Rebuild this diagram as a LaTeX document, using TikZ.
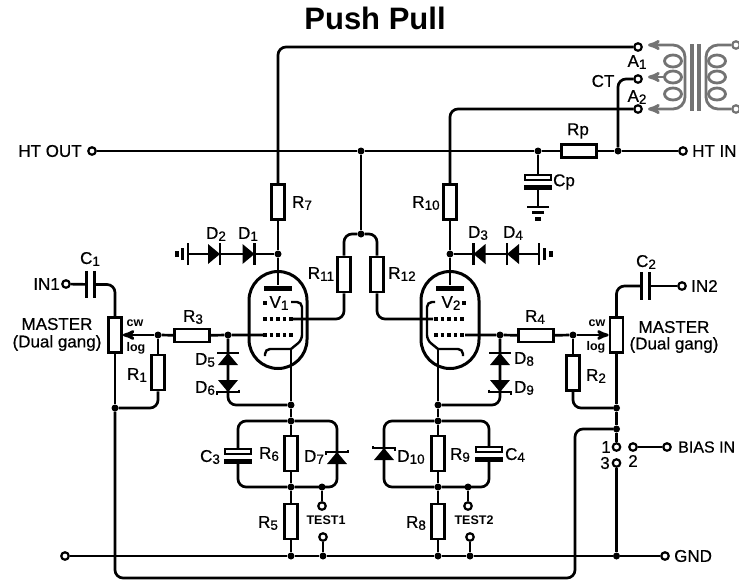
\documentclass[tikz,border=0pt]{standalone}
\usepackage{fontspec}
\setmainfont[FakeBold=0.6]{Liberation Sans}
\newfontfamily\plainbold{Liberation Sans Bold}
\usetikzlibrary{shapes, arrows, positioning}
\newcommand{\lab}[2]{#1\raisebox{-2pt}{\fontsize{13.5}{13.5}\selectfont #2}}
\newcommand{\diode}[4]{%
	\begin{scope}[shift={(#2,#3)},rotate=#4]
		\coordinate (#1) at (0,0);
		\fill (-6,-10) -- (6,0) -- (-6,10) -- cycle;
		\draw[wire] (6,-11) -- (6,11);
	\end{scope}}
\newcommand{\zener}[5][]{%
	\begin{scope}[shift={(#3,#4)},rotate=#5,#1]
		\coordinate (#2) at (0,0);
		\fill (-6,-10) -- (6,0) -- (-6,10) -- cycle;
		\draw[line width=2.7pt] (3.5,-11) -- (6,-11) -- (6,11) -- (8.5,11);
	\end{scope}}
\newcommand{\gnd}[4]{%
	\begin{scope}[shift={(#2,#3)},rotate=#4]
		\coordinate (#1) at (0,0);
		\draw[wire] (0,-11) -- (0,11);
		\draw[wire] (5.5,-6) -- (5.5,6);
		\draw[line width=4pt] (11.5,-3) -- (11.5,3);
	\end{scope}}
\newcommand{\polcap}[3]{%
	\node[capnode] (#1) at (#2,#3) {};
	\draw[line width=2pt] (#2-13,#3-7.5) rectangle (#2+13,#3-2.5);
	\fill (#2-14,#3+2.5) rectangle (#2+14,#3+8);}
\newcommand{\plaincap}[3]{%
	\node[capgap] (#1) at (#2,#3) {};
	\draw[wire] (#1.north west) -- (#1.south west);
	\draw[wire] (#1.north east) -- (#1.south east);}
\newcommand{\tube}[3]{%
	\node[envelope] (#1) at (#2,320) {};
	\node[plate] (#3) at (#2,288) {};}
\tikzstyle{wire} = [line width=2.7pt, rounded corners=8pt]
\tikzstyle{thin wire} = [line width=2.4pt, rounded corners=5pt]
\tikzstyle{gridbar} = [line width=4pt, dash pattern=on 3.6pt off 3pt]
\tikzstyle{dot} = [circle, fill=black, minimum size=7pt, inner sep=0pt]
\tikzstyle{term} = [circle, draw, line width=2.2pt, fill=white, minimum size=7.5pt, inner sep=0pt]
\tikzstyle{resv} = [rectangle, draw, line width=2.7pt, minimum width=13pt, minimum height=35pt, inner sep=0pt]
\tikzstyle{resh} = [rectangle, draw, line width=2.7pt, minimum width=35pt, minimum height=13pt, inner sep=0pt]
\tikzstyle{envelope} = [rectangle, draw, line width=3pt, rounded corners=29pt, minimum width=58pt, minimum height=97pt, inner sep=0pt]
\tikzstyle{plate} = [rectangle, fill=black, minimum width=28pt, minimum height=5pt, inner sep=0pt]
\tikzstyle{square} = [rectangle, fill=black, minimum size=4pt, inner sep=0pt]
\tikzstyle{capnode} = [rectangle, minimum width=28pt, minimum height=15pt, inner sep=0pt]
\tikzstyle{capgap} = [rectangle, minimum width=7pt, minimum height=27pt, inner sep=0pt]
\tikzstyle{coreline} = [line width=2.8pt, draw=gray!90!black]
\tikzstyle{graphterm} = [circle, draw=gray!90!black, line width=2.2pt, fill=white, minimum size=7.5pt, inner sep=0pt]
\tikzstyle{txt} = [inner sep=0pt, font=\fontsize{17}{17}\selectfont]
\tikzstyle{small} = [inner sep=0pt, font=\fontsize{12.5}{12.5}\selectfont\plainbold]
\begin{document}
\begin{tikzpicture}[x=1pt,y=-1pt]
	\useasboundingbox (0,0) rectangle (739,582);
	\node[inner sep=0pt, font=\fontsize{31}{31}\selectfont\plainbold] (title) at (375,18) {Push Pull};
	% terminals
	\node[term] (A1) at (638,47) {};
	\node[term] (CT) at (638,79) {};
	\node[term] (A2) at (638,109) {};
	\node[term] (HTout) at (92,151) {};
	\node[term] (HTin) at (683,151) {};
	\node[term] (IN1) at (66,284) {};
	\node[term] (IN2) at (682,286) {};
	\node[term] (gndL) at (65,556) {};
	\node[term] (gndR) at (665,556) {};
	\node[term] (sw1) at (616.5,447) {};
	\node[term] (sw2) at (633,447) {};
	\node[term] (sw3) at (616.5,463) {};
	\node[term] (biasIn) at (667,447) {};
	\node[term] (testA1) at (322,506) {};
	\node[term] (testB1) at (323,537) {};
	\node[term] (testA2) at (468,506) {};
	\node[term] (testB2) at (470,537) {};
	% resistors
	\node[resv] (R7) at (278,202) {};
	\node[resv] (R10) at (450,202) {};
	\node[resh] (Rp) at (579,151) {};
	\node[resv] (R11) at (344,274.5) {};
	\node[resv] (R12) at (377,274.5) {};
	\node[resh] (R3) at (192,335.5) {};
	\node[resh] (R4) at (536,335.5) {};
	\node[resv] (R1) at (158,372.5) {};
	\node[resv] (R2) at (573,373) {};
	\node[resv] (R6) at (291,453.5) {};
	\node[resv] (R5) at (291,521.5) {};
	\node[resv] (R9) at (438,453.5) {};
	\node[resv] (R8) at (438,521.5) {};
	\node[resv] (potL) at (115,335) {};
	\node[resv] (potR) at (616.5,335) {};
	% junctions
	\node[dot] (jHT) at (361,151) {};
	\node[dot] (jScr) at (361,234) {};
	\node[dot] (jCp) at (538,151) {};
	\node[dot] (jCT) at (618,151) {};
	\node[dot] (jV1) at (278,254) {};
	\node[dot] (jV2) at (450,254) {};
	\node[dot] (jG1) at (228,335) {};
	\node[dot] (jG2) at (500,335) {};
	\node[dot] (jR1) at (158,335) {};
	\node[dot] (jR2) at (573,335) {};
	\node[dot] (jP1) at (115,408) {};
	\node[dot] (jP2) at (616.5,408) {};
	\node[dot] (jP3) at (616.5,429) {};
	\node[dot] (jC1) at (291,405) {};
	\node[dot] (jC2) at (438,405) {};
	\node[dot] (jT1) at (291,421) {};
	\node[dot] (jT2) at (438,421) {};
	\node[dot] (jM1) at (291,487) {};
	\node[dot] (jM2) at (438,487) {};
	\node[dot] (jA1) at (322,487) {};
	\node[dot] (jA2) at (468,487) {};
	\node[dot] (jB1) at (291,556) {};
	\node[dot] (jB2) at (438,556) {};
	\node[dot] (jB3) at (616.5,556) {};
	\node[dot] (jD1) at (323,556) {};
	\node[dot] (jD2) at (470,556) {};
	% free ends
	\coordinate (scr1) at (293,319);
	\coordinate (scr2) at (433,319);
	\coordinate (ctl1) at (263,335);
	\coordinate (ctl2) at (465,335);
	\coordinate (cath1) at (291,349);
	\coordinate (cath2) at (438,349);
	\coordinate (cBL) at (115,578);
	\coordinate (cBR) at (575,578);
	\coordinate (cBU) at (575,429);
	% parts
	\tube{V1}{278}{P1}
	\tube{V2}{450}{P2}
	\node[square] (S1) at (265,303) {};
	\node[square] (S2) at (464,303) {};
	\diode{D1}{248.5}{254}{0}
	\diode{D2}{214}{254}{0}
	\diode{D3}{479.5}{254}{180}
	\diode{D4}{513}{254}{180}
	\diode{D5}{228}{359}{90}
	\diode{D8}{500}{359}{90}
	\zener{D6}{228}{386}{270}
	\zener[yscale=-1]{D9}{500}{386}{270}
	\zener{D7}{337}{458}{90}
	\zener[yscale=-1]{D10}{384}{454}{90}
	\gnd{gndA}{188}{254}{180}
	\gnd{gndB}{539}{254}{0}
	\gnd{gndC}{538}{207}{270}
	\plaincap{C1}{90.5}{284.5}
	\plaincap{C2}{645.5}{286}
	\polcap{Cp}{538}{182}
	\polcap{C3}{238}{456}
	\polcap{C4}{489}{454}
	% wires
	\draw[wire] (A1) -| (R7);
	\draw[wire] (A2) -| (R10);
	\draw[wire] (CT) -| (jCT);
	\draw[wire] (HTout) -- (jHT) -- (jCp) -- (Rp) -- (jCT) -- (HTin);
	\draw[wire] (jHT) -- (jScr);
	\draw[wire] (R11) |- (jScr) -| (R12);
	\draw[wire] (jCp) -- (Cp);
	\draw[wire] (Cp) -- (gndC);
	\draw[wire] (R7) -- (jV1) -- (P1);
	\draw[wire] (R10) -- (jV2) -- (P2);
	\draw[wire] (jV1) -- (D1) -- (D2) -- (gndA);
	\draw[wire] (jV2) -- (D3) -- (D4) -- (gndB);
	\draw[wire] (R11) |- (scr1);
	\draw[wire] (R12) |- (scr2);
	\draw[gridbar] (263,319) -- (scr1);
	\draw[gridbar] (ctl1) -- (293,335);
	\draw[gridbar] (434,319) -- (465,319);
	\draw[gridbar] (434,335) -- (ctl2);
	\draw[thin wire] (291,302) -- (302,302) -- (302,340) -- (cath1);
	\draw[thin wire] (265,356) -- (265,349) -- (cath1);
	\draw[thin wire] (435,302) -- (427,302) -- (427,340) -- (cath2);
	\draw[thin wire] (463,356) -- (463,349) -- (cath2);
	\draw[wire] (ctl1) -- (jG1) -- (R3) -- (jR1);
	\draw[wire] (ctl2) -- (jG2) -- (R4) -- (jR2);
	\draw[wire, -stealth'] (jR1) -- (potL);
	\draw[wire, -stealth'] (jR2) -- (potR);
	\draw[wire] (IN1) -- (C1);
	\draw[wire] (C1) -| (potL);
	\draw[wire] (IN2) -- (C2);
	\draw[wire] (C2) -| (potR);
	\draw[wire] (potL) -- (jP1);
	\draw[wire] (jR1) -- (R1);
	\draw[wire] (R1) |- (jP1);
	\draw[wire] (potR) -- (jP2) -- (jP3) -- (sw1);
	\draw[wire] (jR2) -- (R2);
	\draw[wire] (R2) |- (jP2);
	\draw[wire] (jP1) -- (cBL) -- (cBR) -- (cBU) -- (jP3);
	\draw[wire] (sw2) -- (biasIn);
	\draw[wire] (sw3) -- (jB3);
	\draw[wire] (jG1) -- (D5) -- (D6) |- (jC1);
	\draw[wire] (jG2) -- (D8) -- (D9) |- (jC2);
	\draw[wire] (cath1) -- (jC1) -- (jT1) -- (R6) -- (jM1) -- (R5) -- (jB1);
	\draw[wire] (cath2) -- (jC2) -- (jT2) -- (R9) -- (jM2) -- (R8) -- (jB2);
	\draw[wire] (C3) |- (jT1) -| (D7);
	\draw[wire] (C3) |- (jM1) -| (D7);
	\draw[wire] (C4) |- (jT2) -| (D10);
	\draw[wire] (C4) |- (jM2) -| (D10);
	\draw[wire] (jA1) -- (testA1);
	\draw[wire] (testB1) -- (jD1);
	\draw[wire] (jA2) -- (testA2);
	\draw[wire] (testB2) -- (jD2);
	\draw[wire] (gndL) -- (jB1) -- (jD1) -- (jB2) -- (jD2) -- (jB3) -- (gndR);
	% transformer
	\node[graphterm] (secA) at (736,45) {};
	\node[graphterm] (secB) at (736,109) {};
	\coordinate (priA) at (648,45);
	\coordinate (priB) at (648,109);
	\coordinate (priC) at (648,77);
	\coordinate (tapC) at (666,77);
	\draw[coreline, rounded corners=12pt, stealth'-stealth'] (priA) -- (685,45) -- (685,109) -- (priB);
	\draw[coreline, stealth'-] (priC) -- (tapC);
	\draw[coreline, rounded corners=12pt] (secA) -- (706,45) -- (706,109) -- (secB);
	\foreach \ypos in {61,77,94} {
		\draw[coreline] (673,\ypos) ellipse (8.5 and 6);
		\draw[coreline] (717,\ypos) ellipse (8.5 and 6);
	}
	\fill[gray!90!black] (690,44) rectangle (694,111);
	\fill[gray!90!black] (697,44) rectangle (701,111);
	% labels
	\node[txt] (lbA1) at (637,62) {\lab{A}{1}};
	\node[txt] (lbCT) at (603,81) {CT};
	\node[txt] (lbA2) at (637,97) {\lab{A}{2}};
	\node[txt] (lbHTout) at (50,151) {HT OUT};
	\node[txt, anchor=west] (lbHTin) at (692,151) {HT IN};
	\node[txt] (lbRp) at (578,131) {Rp};
	\node[txt] (lbCp) at (564,182) {Cp};
	\node[txt] (lbR7) at (302,203) {\lab{R}{7}};
	\node[txt] (lbR10) at (426,203) {\lab{R}{10}};
	\node[txt] (lbD1) at (248,234) {\lab{D}{1}};
	\node[txt] (lbD2) at (216,234) {\lab{D}{2}};
	\node[txt] (lbD3) at (478,233) {\lab{D}{3}};
	\node[txt] (lbD4) at (513,233) {\lab{D}{4}};
	\node[txt] (lbC1) at (90,259) {\lab{C}{1}};
	\node[txt] (lbC2) at (646,262) {\lab{C}{2}};
	\node[txt, anchor=east] (lbIN1) at (60,284) {IN1};
	\node[txt, anchor=west] (lbIN2) at (691,286) {IN2};
	\node[txt] (lbR11) at (321,274) {\lab{R}{11}};
	\node[txt] (lbR12) at (402,274) {\lab{R}{12}};
	\node[txt] (lbV1) at (279,303) {\lab{V}{1}};
	\node[txt] (lbV2) at (451,303) {\lab{V}{2}};
	\node[txt] (lbM1) at (57,324) {MASTER};
	\node[txt] (lbG1) at (57,343) {(Dual gang)};
	\node[txt] (lbM2) at (674,327) {MASTER};
	\node[txt] (lbG2) at (674,345) {(Dual gang)};
	\node[small] (lbCw1) at (135,323) {cw};
	\node[small] (lbLog1) at (136,348) {log};
	\node[small] (lbCw2) at (597,323) {cw};
	\node[small] (lbLog2) at (596,347) {log};
	\node[txt] (lbR1) at (137,375) {\lab{R}{1}};
	\node[txt] (lbR2) at (596,376) {\lab{R}{2}};
	\node[txt] (lbR3) at (193,317) {\lab{R}{3}};
	\node[txt] (lbR4) at (535,317) {\lab{R}{4}};
	\node[txt] (lbD5) at (205,360) {\lab{D}{5}};
	\node[txt] (lbD6) at (205,388) {\lab{D}{6}};
	\node[txt] (lbD8) at (524,359) {\lab{D}{8}};
	\node[txt] (lbD9) at (524,388) {\lab{D}{9}};
	\node[txt] (lbC3) at (210,457) {\lab{C}{3}};
	\node[txt] (lbR6) at (269,454) {\lab{R}{6}};
	\node[txt] (lbD7) at (314,457) {\lab{D}{7}};
	\node[txt] (lbR5) at (268,523) {\lab{R}{5}};
	\node[txt] (lbD10) at (411,457) {\lab{D}{10}};
	\node[txt] (lbR9) at (460,455) {\lab{R}{9}};
	\node[txt] (lbC4) at (515,455) {\lab{C}{4}};
	\node[txt] (lbR8) at (416,523) {\lab{R}{8}};
	\node[small] (lbT1) at (326,520) {TEST1};
	\node[small] (lbT2) at (474,520) {TEST2};
	\node[txt] (lbSw1) at (606,447) {1};
	\node[txt] (lbSw3) at (605,463) {3};
	\node[txt] (lbSw2) at (633,461) {2};
	\node[txt, anchor=west, font=\fontsize{16}{16}\selectfont] (lbBias) at (678,447) {BIAS IN};
	\node[txt, anchor=west] (lbGND) at (674,556) {GND};
\end{tikzpicture}
\end{document}
